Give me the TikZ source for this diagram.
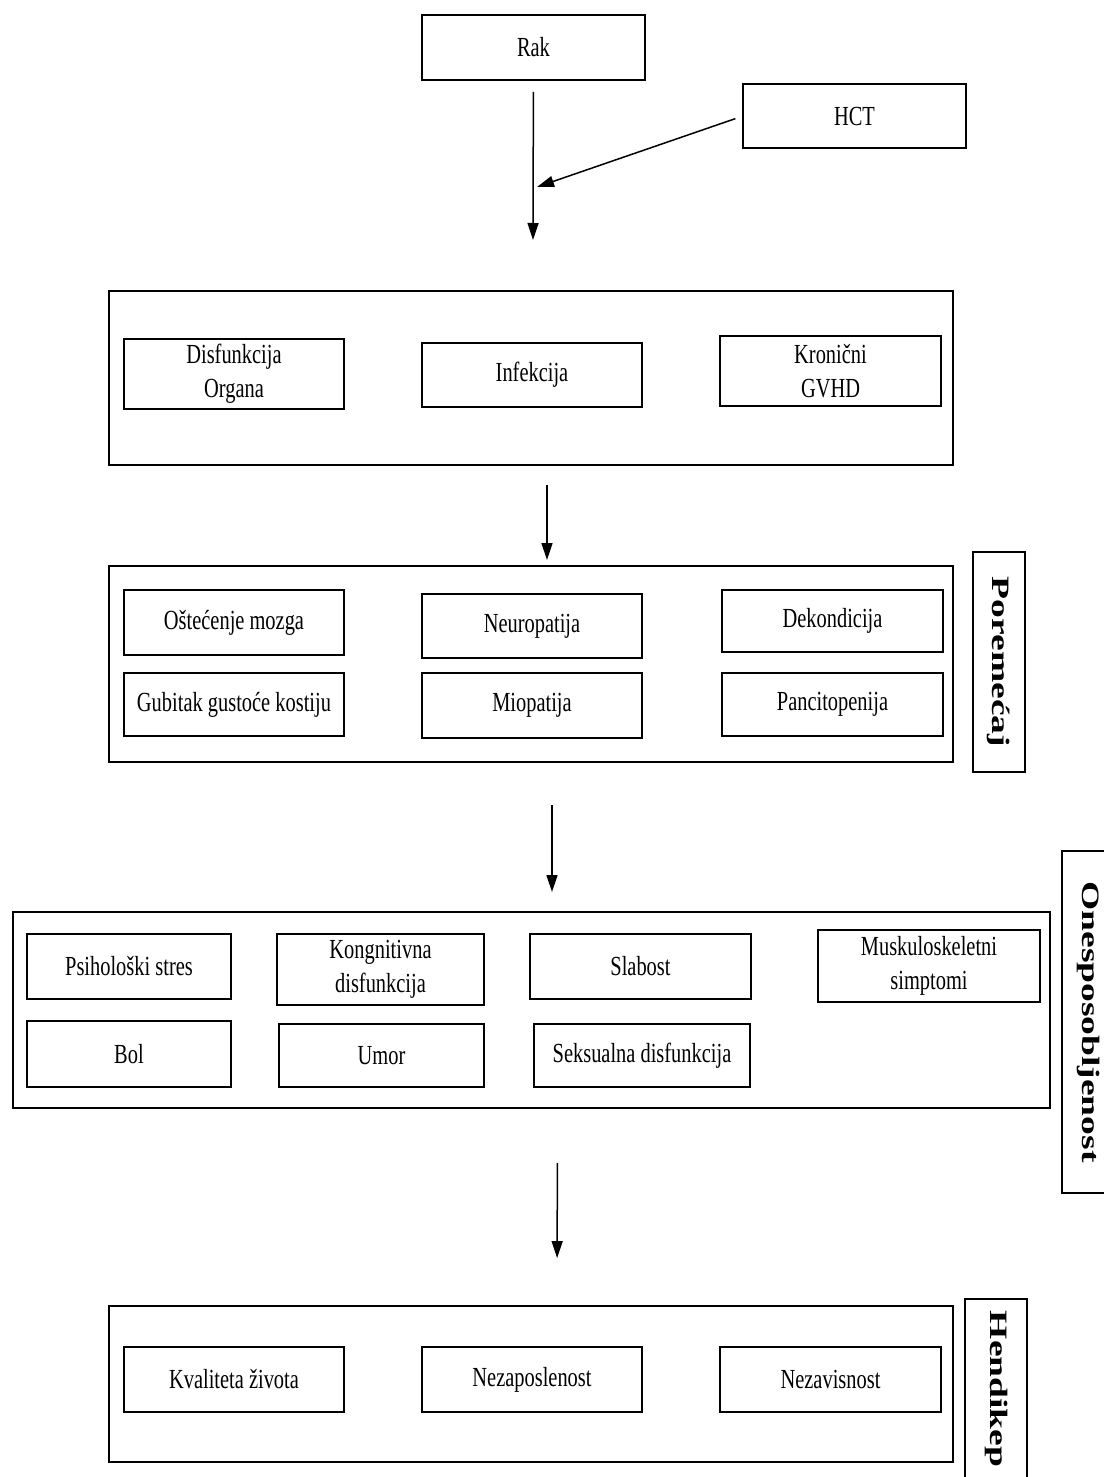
\documentclass[tikz,border=0pt]{standalone}
\usepackage{fontspec}
\setmainfont{Liberation Serif}[FakeStretch=0.74]
\newfontfamily\lblfont{Liberation Serif}[FakeStretch=1.5]
\usetikzlibrary{arrows.meta}
\tikzset{
  box/.style={draw, line width=0.9pt, inner sep=0pt, outer sep=0pt, align=center,
    font=\fontsize{13.8pt}{17pt}\selectfont},
  lbl/.style={draw, line width=0.9pt, inner sep=0pt, outer sep=0pt, rotate=-90,
    font=\lblfont\bfseries\fontsize{12.5pt}{15pt}\selectfont},
  arr/.style={line width=0.75pt, -{Triangle[length=8.5pt,width=5.5pt]}}
}
\newcommand{\bx}[7][]{\node[box,#1,minimum width={(#5-#3)*0.5pt},minimum height={(#6-#4)*0.5pt}] (#2) at ({(#3+#5)/2},{(#4+#6)/2}) {#7};}
\begin{document}
\begin{tikzpicture}[x=0.5pt,y=-0.5pt]
\useasboundingbox (0,0) rectangle (1103,1477);
% top
\bx{rak}{422}{15}{645}{80}{Rak}
\bx{hct}{743}{84}{966}{148}{HCT}
% group 1
\bx{g1}{109}{291}{953}{465}{}
\bx{org}{124}{339}{344}{409}{Disfunkcija\\Organa}
\bx{inf}{422}{343}{642}{407}{Infekcija}
\bx{gvhd}{720}{336}{941}{406}{Kronični\\GVHD}
% group 2
\bx{g2}{109}{566}{953}{762}{}
\bx{ost}{124}{590}{344}{655}{Oštećenje mozga}
\bx{neu}{422}{594}{642}{658}{Neuropatija}
\bx{dek}{722}{590}{943}{652}{Dekondicija}
\bx{gub}{124}{673}{344}{736}{Gubitak gustoće kostiju}
\bx{mio}{422}{673}{642}{738}{Miopatija}
\bx{pan}{722}{673}{943}{736}{Pancitopenija}
\node[lbl, minimum width=110pt, minimum height=26pt] (lp) at (999,662) {Poremećaj};
% group 3
\bx{g3}{13}{912}{1050}{1108}{}
\bx{psi}{27}{934}{231}{999}{Psihološki stres}
\bx{kog}{277}{934}{484}{1005}{Kongnitivna\\disfunkcija}
\bx{sla}{530}{934}{751}{999}{Slabost}
\bx{mus}{818}{930}{1040}{1002}{Muskuloskeletni\\simptomi}
\bx{bol}{27}{1021}{231}{1087}{Bol}
\bx{umo}{279}{1024}{484}{1087}{Umor}
\bx{sek}{534}{1024}{750}{1087}{Seksualna disfunkcija}
\node[lbl, minimum width=171pt, minimum height=26pt] (lo) at (1088,1022) {Onesposobljenost};
% group 4
\bx{g4}{109}{1306}{953}{1462}{}
\bx{kva}{124}{1347}{344}{1412}{Kvaliteta života}
\bx{nez}{422}{1347}{642}{1412}{Nezaposlenost}
\bx{nzv}{720}{1347}{941}{1412}{Nezavisnost}
\node[lbl, minimum width=90pt, minimum height=31pt] (lh) at (996,1389) {Hendikep};
% connectors
\coordinate (a1e) at (533,240);
\coordinate (hcte) at (537,187);
\draw[arr, shorten <=6pt] (rak) -- (a1e);
\draw[arr, shorten <=4pt] (hct.west) -- (hcte);
\draw[arr, shorten <=10pt, shorten >=3pt] ([xshift=8pt]g1.south) -- ([xshift=8pt]g2.north);
\draw[arr, shorten <=21.5pt, shorten >=10pt] ([xshift=10.5pt]g2.south) -- ([xshift=10.25pt]g3.north);
\draw[arr, shorten <=27.5pt, shorten >=24pt] ([xshift=13pt]g3.south) -- ([xshift=13pt]g4.north);
\end{tikzpicture}
\end{document}
